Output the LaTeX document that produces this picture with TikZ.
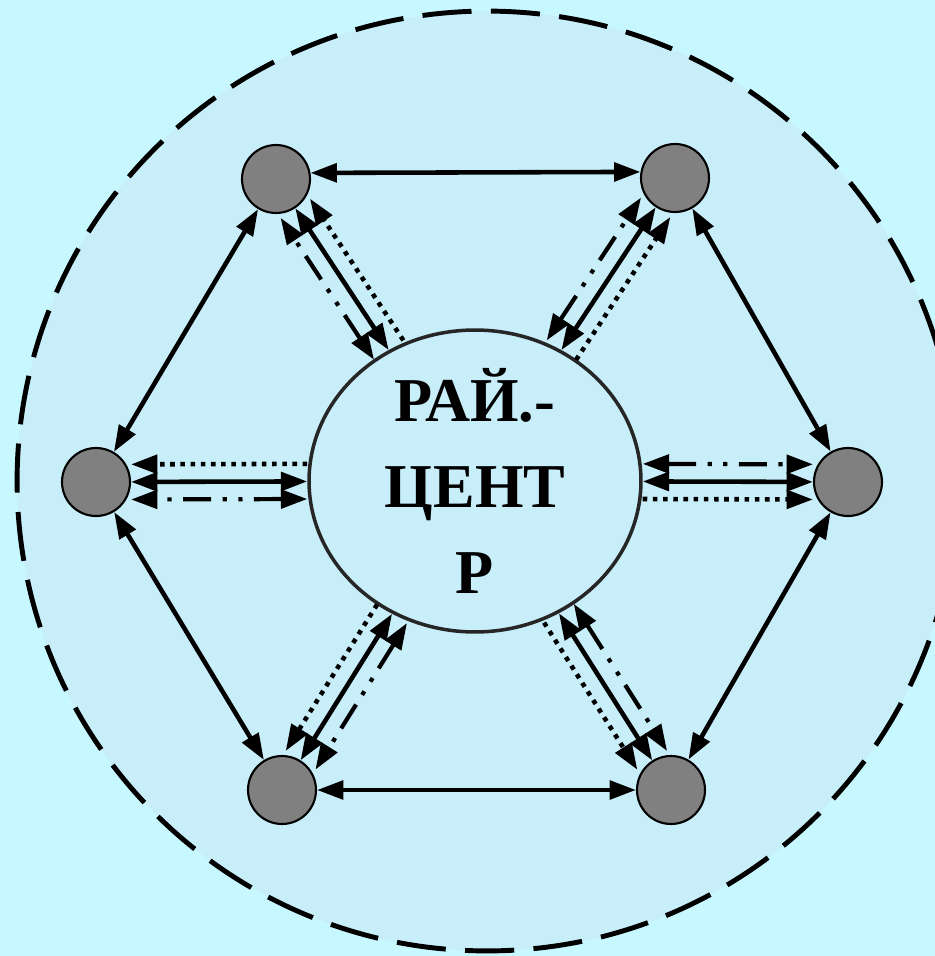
\documentclass[tikz,border=0pt]{standalone}
\usepackage{fontspec}
\setmainfont{Liberation Serif}
\usepackage{tikz}
\usetikzlibrary{shapes,arrows.meta,positioning,calc}
\definecolor{outbg}{RGB}{200,248,255}
\definecolor{inbg}{RGB}{200,238,250}
\definecolor{knot}{RGB}{128,128,128}

\begin{document}
\begin{tikzpicture}[x=0.02cm, y=-0.02cm,
   >={Triangle[length=15pt,width=10.5pt]},
   link/.style={<->, line width=2.6pt},
   dotlink/.style={->, line width=2.6pt, dash pattern=on 2.6pt off 3.2pt},
   dashdotlink/.style={<->, line width=2.4pt, dash pattern=on 16pt off 6.5pt on 2.4pt off 6.5pt on 2.4pt off 6.5pt},
   town/.style={circle, draw, line width=1.2pt, fill=knot, minimum size=1.36cm, inner sep=0pt},
   hub/.style={ellipse, draw=black!85, line width=2pt, fill=inbg, minimum width=6.64cm, minimum height=6.04cm, inner sep=0pt},
   hubtext/.style={align=center, font=\bfseries\fontsize{35.5}{49}\selectfont}]
   \useasboundingbox (0,0) rectangle (935,956);
   \fill[outbg] (0,0) rectangle (935,956);
   % district border
   \draw[line width=2.8pt, dash pattern=on 28pt off 11pt, fill=inbg] (487,481) circle[radius=9.4cm];
   % centre and settlements
   \node[hub] (C) at (475,481) {};
   \node[hubtext] at (C) {РАЙ.-\\ЦЕНТ\\Р};
   \node[town] (TL) at (276,179) {};
   \node[town] (TR) at (675,178) {};
   \node[town] (R) at (848,482) {};
   \node[town] (BR) at (671,790) {};
   \node[town] (BL) at (282,790) {};
   \node[town] (L) at (96,482) {};
   % ring links
   \draw[link] (TL.10) -- (TR.170);
   \foreach \p/\q in {TR/R,R/BR,BR/BL,BL/L,L/TL}
      \draw[link] (\p) -- (\q);
   % spokes
   \foreach \n in {TL,TR,R,BR,BL,L}{
      \path (C) -- coordinate[pos=0] (a) coordinate[pos=1] (b) (\n);
      \draw[link] (a) -- (b);
      \draw[dotlink] ($(a)!10pt!-90:(b)$) -- ($(b)!10pt!90:(a)$);
      \draw[dashdotlink] ($(a)!10pt!90:(b)$) -- ($(b)!10pt!-90:(a)$);
   }
\end{tikzpicture}
\end{document}
